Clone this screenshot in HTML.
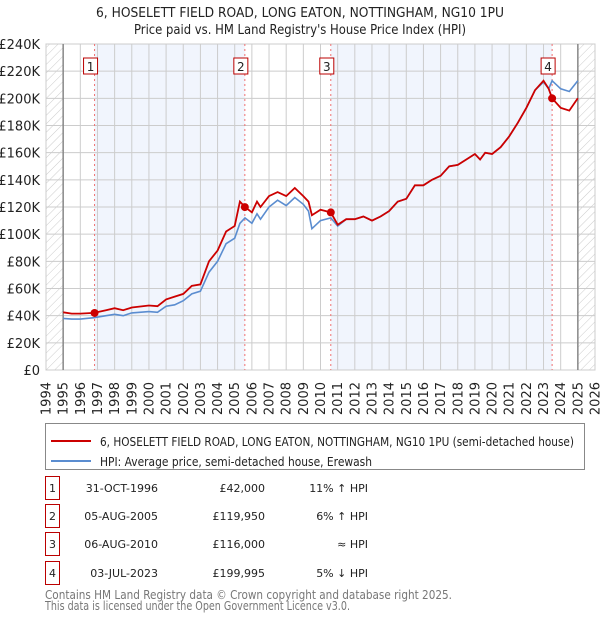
<!DOCTYPE html>
<html><head><meta charset="utf-8"><style>
body{margin:0;background:#fff;font-family:"Liberation Sans","DejaVu Sans",sans-serif;}
svg text{font-family:"DejaVu Sans","Liberation Sans",sans-serif;}
</style></head><body>
<svg id="c" width="600" height="620" xmlns="http://www.w3.org/2000/svg">
<defs><pattern id="hatch" width="6" height="6" patternUnits="userSpaceOnUse" patternTransform="rotate(45)"><line x1="0" y1="0" x2="0" y2="6" stroke="#ccc" stroke-width="1"/></pattern></defs>
<text x="96" y="17" textLength="408" lengthAdjust="spacingAndGlyphs" font-size="13" fill="#222">6, HOSELETT FIELD ROAD, LONG EATON, NOTTINGHAM, NG10 1PU</text>
<text x="134" y="34" textLength="332" lengthAdjust="spacingAndGlyphs" font-size="13" fill="#222">Price paid vs. HM Land Registry's House Price Index (HPI)</text>
<g id="plot"></g>
<g>
<rect x="45.5" y="423.5" width="539" height="46" fill="#fff" stroke="#888"/>
<line x1="51" y1="441" x2="91" y2="441" stroke="#cc0000" stroke-width="2"/>
<text x="100" y="446" textLength="474" lengthAdjust="spacingAndGlyphs" font-size="12" fill="#222">6, HOSELETT FIELD ROAD, LONG EATON, NOTTINGHAM, NG10 1PU (semi-detached house)</text>
<line x1="51" y1="461" x2="91" y2="461" stroke="#5b8dd0" stroke-width="2"/>
<text x="100" y="466" textLength="272" lengthAdjust="spacingAndGlyphs" font-size="12" fill="#222">HPI: Average price, semi-detached house, Erewash</text>
</g>
<g id="table" font-size="11" fill="#222"></g>
<text x="45" y="599" textLength="407" lengthAdjust="spacingAndGlyphs" font-size="12" fill="#777">Contains HM Land Registry data © Crown copyright and database right 2025.</text>
<text x="45" y="610" textLength="305" lengthAdjust="spacingAndGlyphs" font-size="12" fill="#777">This data is licensed under the Open Government Licence v3.0.</text>
</svg>
<script>
const hpiDates=[1995,1995.5,1996,1996.8,1997.5,1998,1998.5,1999,2000,2000.5,2001,2001.5,2002,2002.5,2003,2003.5,2004,2004.5,2005,2005.3,2005.6,2006,2006.3,2006.5,2007,2007.5,2008,2008.5,2009,2009.3,2009.5,2010,2010.6,2011,2011.5,2012,2012.5,2013,2013.5,2014,2014.5,2015,2015.5,2016,2016.5,2017,2017.5,2018,2018.5,2019,2019.3,2019.6,2020,2020.5,2021,2021.5,2022,2022.5,2023,2023.3,2023.5,2024,2024.5,2025];
const hpiValues=[38,37.5,37.5,38.5,40,41,40,42,43,42.5,47,48,51,56,58,72,80,93,97,108,112,108,115,111,120,125,121,127,122,117,104,110,112,106,111,111,113,110,113,117,124,126,136,136,140,143,150,151,155,159,155,160,159,164,172,182,193,206,212,207,213,207,205,213];
const priceDates=[1995,1995.5,1996,1996.8,1997.5,1998,1998.5,1999,2000,2000.5,2001,2001.5,2002,2002.5,2003,2003.5,2004,2004.5,2005,2005.3,2005.6,2006,2006.3,2006.5,2007,2007.5,2008,2008.5,2009,2009.3,2009.5,2010,2010.6,2011,2011.5,2012,2012.5,2013,2013.5,2014,2014.5,2015,2015.5,2016,2016.5,2017,2017.5,2018,2018.5,2019,2019.3,2019.6,2020,2020.5,2021,2021.5,2022,2022.5,2023,2023.3,2023.5,2024,2024.5,2025];
const priceValues=[42.5,41.5,41.5,42,44,45.5,44,46,47.5,47,52,54,56,62,63,80,88,102,106,124,120,116,124,120,128,131,128,134,128,124,114,118,116,107,111,111,113,110,113,117,124,126,136,136,140,143,150,151,155,159,155,160,159,164,172,182,193,206,213,207,200,193,191,200];
const saleLabels=["1","2","3","4"];
const saleDates=[1996.83,2005.59,2010.6,2023.5];
const saleValues=[42,119.95,116,199.995];
const saleDateText=["31-OCT-1996","05-AUG-2005","06-AUG-2010","03-JUL-2023"];
const salePriceText=["£42,000","£119,950","£116,000","£199,995"];
const saleHpiText=["11% ↑ HPI","6% ↑ HPI","≈ HPI","5% ↓ HPI"];
const yTicks=[0,20,40,60,80,100,120,140,160,180,200,220,240];
const xTicks=[];for(let y=1994;y<=2026;y++)xTicks.push(y);

const X0=46,X1=595,Y0=370,Y1=44;
const xs=d=>X0+(d-1994)/(2026-1994)*(X1-X0);
const ys=v=>Y0-v/240*(Y0-Y1);
const NS="http://www.w3.org/2000/svg";
const plot=document.getElementById('plot');
function mk(tag,attrs,parent){const e=document.createElementNS(NS,tag);for(const k in attrs)e.setAttribute(k,attrs[k]);(parent||plot).appendChild(e);return e;}

let r=mk('rect',{x:X0,y:Y1,width:X1-X0,height:Y0-Y1,fill:'#fff'});


for(let i=0;i<saleDates.length;i+=2){
 const e=mk('rect',{x:xs(saleDates[i]),y:Y1,width:xs(saleDates[i+1])-xs(saleDates[i]),height:Y0-Y1,fill:'#eef3fc',opacity:0.8});
 
 
}
let h1=mk('rect',{x:X0,y:Y1,width:xs(1995)-X0,height:Y0-Y1,fill:'url(#hatch)'});


let h2=mk('rect',{x:xs(2025),y:Y1,width:X1-xs(2025),height:Y0-Y1,fill:'url(#hatch)'});


xTicks.forEach(t=>{const l=mk('line',{x1:xs(t),x2:xs(t),y1:Y1,y2:Y0,stroke:'#ccc'});
 
 
 const tx=mk('text',{x:0,y:0,transform:`translate(${xs(t)+4.5},382) rotate(-90)`,'text-anchor':'end','font-size':13,fill:'#222'});
 tx.textContent=t;
 
 
});
yTicks.forEach(t=>{const l=mk('line',{x1:X0,x2:X1,y1:ys(t),y2:ys(t),stroke:'#ccc'});
 
 
 const tx=mk('text',{x:40,y:ys(t)+5,'text-anchor':'end','font-size':13,fill:'#222'});
 tx.textContent='£'+(t===0?'0':t+'K');
 
 
});
let bd=mk('rect',{x:X0,y:Y1,width:X1-X0,height:Y0-Y1,fill:'none',stroke:'#ccc'});


[1995,2025].forEach(t=>{const l=mk('line',{x1:xs(t),x2:xs(t),y1:Y1,y2:Y0,stroke:'#888','stroke-width':1.5});
 
 });
saleDates.forEach((d,i)=>{const l=mk('line',{x1:xs(d),x2:xs(d),y1:Y1,y2:Y0,stroke:'#f07070','stroke-dasharray':'2,3'});
 
 
 const cx=xs(d)-4;
 const b=mk('rect',{x:cx-7,y:58,width:14,height:16,fill:'#fff',stroke:'#b00'});
 
 
 const t=mk('text',{x:cx,y:71,'text-anchor':'middle','font-size':12,fill:'#222'});
 t.textContent=saleLabels[i];
 
 
});
function path(ds,vs){return ds.map((d,i)=>(i?'L':'M')+xs(d).toFixed(1)+','+ys(vs[i]).toFixed(1)).join('');}
let hp=mk('path',{d:path(hpiDates,hpiValues),fill:'none',stroke:'#5b8dd0','stroke-width':1.6});


let pp=mk('path',{d:path(priceDates,priceValues),fill:'none',stroke:'#cc0000','stroke-width':1.8});


saleDates.forEach((d,i)=>{const c=mk('circle',{cx:xs(d),cy:ys(saleValues[i]),r:4,fill:'#cc0000'});
 
 });
const tb=document.getElementById('table');
const rowY=[488,516,544,573];
saleLabels.forEach((s,i)=>{const y=rowY[i];
 const b=mk('rect',{x:45.5,y:y-11.5,width:14,height:23,fill:'#fff',stroke:'#b00'},tb);
 
 
 const cells=[[52.5,'middle',s,'table-row-number'],[158,'end',saleDateText[i],'table-sale-date'],[265,'end',salePriceText[i],'table-sale-price'],[368,'end',saleHpiText[i],'table-hpi-comparison']];
 cells.forEach(c=>{const t=mk('text',{x:c[0],y:y+4,'text-anchor':c[1],'font-size':11},tb);t.textContent=c[2];
  
  });
});
</script>
</body></html>
